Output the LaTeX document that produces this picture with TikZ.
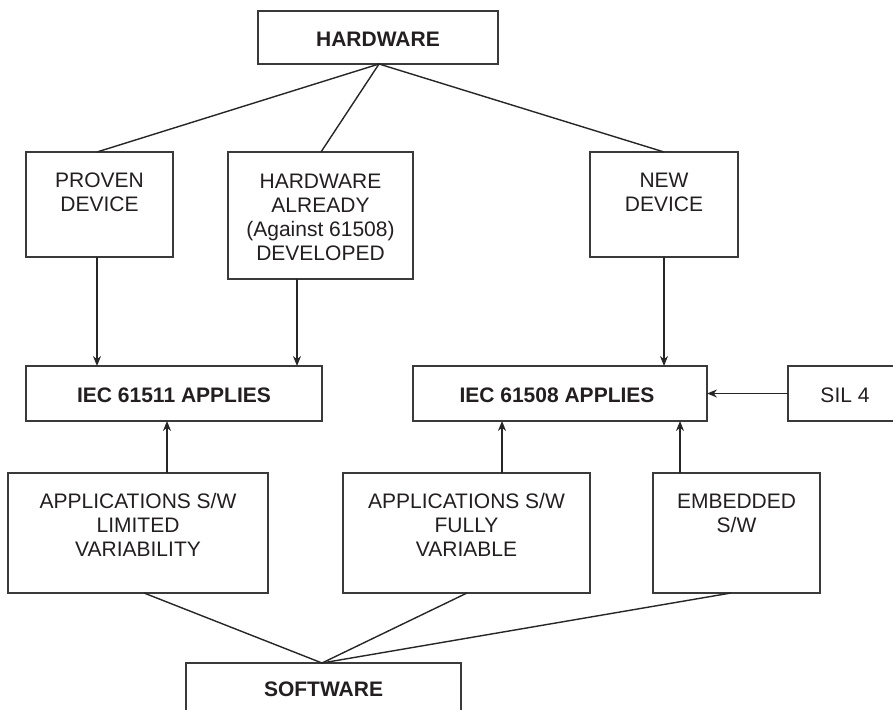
\documentclass[tikz,border=0pt]{standalone}
\usepackage{fontspec}
\setmainfont{Liberation Sans}
\usetikzlibrary{arrows.meta}
\definecolor{ink}{HTML}{231F20}
\definecolor{linec}{HTML}{3A3A3A}
\begin{document}
\begin{tikzpicture}[x=0.5pt,y=-0.5pt,
  box/.style={draw=linec, line width=0.75pt, rectangle, inner sep=0pt, outer sep=0pt},
  txt/.style={text=ink, align=center, inner sep=0pt, font=\fontsize{10.5}{12}\selectfont},
  btxt/.style={txt, font=\fontsize{10.5}{12}\selectfont\bfseries},
  link/.style={draw=black!85, line width=0.7pt},
  arr/.style={link, -{Stealth[length=5pt,width=4pt]}}]
\useasboundingbox (0,0) rectangle (893,710);
\fill[white] (0,0) rectangle (893,710);
% boxes
\node[box, minimum width=120pt, minimum height=26.5pt] (hw) at (378,37.5) {};
\node[btxt] (hwt) at (378,39) {HARDWARE};
\node[box, minimum width=73.5pt, minimum height=52.5pt] (pd) at (99.5,204.5) {};
\node[txt] (pdt) at (99.5,192) {PROVEN\\DEVICE};
\node[box, minimum width=92.5pt, minimum height=63.5pt] (hwa) at (320.5,215.5) {};
\node[txt] (hwat) at (320.5,217) {HARDWARE\\ALREADY\\(Against 61508)\\DEVELOPED};
\node[box, minimum width=74pt, minimum height=52.5pt] (nd) at (664,204.5) {};
\node[txt] (ndt) at (664,192) {NEW\\DEVICE};
\node[box, minimum width=148pt, minimum height=27.5pt] (iec1) at (174,393.5) {};
\node[btxt] (iec1t) at (174,395) {IEC 61511 APPLIES};
\node[box, minimum width=147pt, minimum height=27.5pt] (iec2) at (560,393.5) {};
\node[btxt] (iec2t) at (557,395) {IEC 61508 APPLIES};
\node[box, minimum width=57pt, minimum height=27.5pt] (sil) at (845,393.5) {};
\node[txt] (silt) at (845,395) {SIL 4};
\node[box, minimum width=130pt, minimum height=60pt] (asl) at (138,533) {};
\node[txt] (aslt) at (138,525) {APPLICATIONS S/W\\LIMITED\\VARIABILITY};
\node[box, minimum width=123.5pt, minimum height=60pt] (asf) at (466.5,533) {};
\node[txt] (asft) at (466.5,525) {APPLICATIONS S/W\\FULLY\\VARIABLE};
\node[box, minimum width=83.5pt, minimum height=60pt] (emb) at (736.5,533) {};
\node[txt] (embt) at (736.5,513.5) {EMBEDDED\\S/W};
\node[box, minimum width=137.5pt, minimum height=24.5pt] (sw) at (323.5,687.5) {};
\node[btxt] (swt) at (323.5,689) {SOFTWARE};
% helper x positions
\coordinate (x1) at (97,0);
\coordinate (x2) at (321,0);
\coordinate (x3) at (664,0);
\coordinate (a1) at (297,0);
\coordinate (a2) at (167,0);
\coordinate (a3) at (502,0);
\coordinate (a4) at (680,0);
\coordinate (b1) at (144,0);
\coordinate (b2) at (467,0);
\coordinate (b3) at (731,0);
\coordinate (hwp) at (379,64);
\coordinate (swp) at (322,663);
% hardware fan
\draw[link] (hwp) -- (pd.north -| x1);
\draw[link] (hwp) -- (hwa.north -| x2);
\draw[link] (hwp) -- (nd.north -| x3);
% arrows down
\draw[arr] (pd.south -| x1) -- (iec1.north -| x1);
\draw[arr] (hwa.south -| a1) -- (iec1.north -| a1);
\draw[arr] (nd.south -| x3) -- (iec2.north -| x3);
% sil arrow
\draw[arr] (sil.west) -- (iec2.east);
% arrows up
\draw[arr] (asl.north -| a2) -- (iec1.south -| a2);
\draw[arr] (asf.north -| a3) -- (iec2.south -| a3);
\draw[arr] (emb.north -| a4) -- (iec2.south -| a4);
% software fan
\draw[link] (swp) -- (asl.south -| b1);
\draw[link] (swp) -- (asf.south -| b2);
\draw[link] (swp) -- (emb.south -| b3);
\end{tikzpicture}
\end{document}
